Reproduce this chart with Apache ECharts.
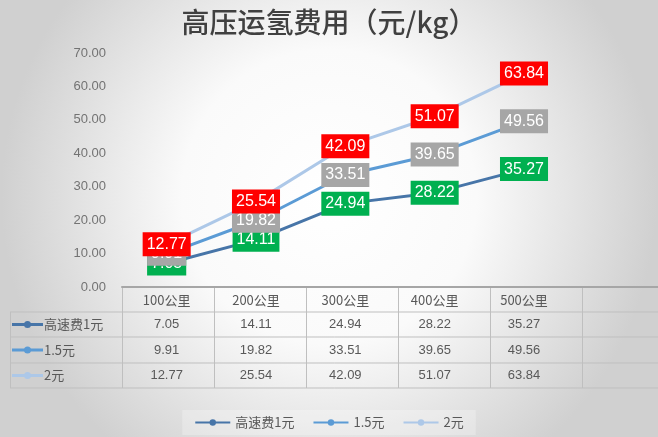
<!DOCTYPE html>
<html><head><meta charset="utf-8">
<script src="https://cdn.jsdelivr.net/npm/echarts@6/dist/echarts.min.js"></script>
<style>html,body{margin:0;padding:0;}#c{width:658px;height:437px;}</style>
</head><body><div id="c"></div>
<script>
const title = '高压运氢费用（元/kg）';
const categories = ['100公里','200公里','300公里','400公里','500公里',''];
const seriesNames = ['高速费1元','1.5元','2元'];
const s1 = [7.05,14.11,24.94,28.22,35.27];
const s2 = [9.91,19.82,33.51,39.65,49.56];
const s3 = [12.77,25.54,42.09,51.07,63.84];
const yTicks = [0,10,20,30,40,50,60,70];

const lineColors = ['#4775a8','#5b9bd5','#adc8e8'];
const labelColors = ['#00b050','#a6a6a6','#ff0000'];
const seriesData = [s1,s2,s3];
const NUM = 'Liberation Sans, Arial, Noto Sans CJK SC';
const CJK = 'Noto Sans CJK SC, Liberation Sans';

const chart = echarts.init(document.getElementById('c'));
const option = {
  animation:false,
  backgroundColor:{type:'radial',x:0.5,y:0.45,r:0.75,colorStops:[
    {offset:0,color:'#ffffff'},{offset:0.45,color:'#fafafa'},{offset:1,color:'#d0d0d0'}]},
  title:{text:title,left:'center',top:3,textStyle:{fontFamily:CJK,fontSize:28,fontWeight:500,color:'#404040'}},
  legend:{bottom:2,left:'center',itemWidth:35,itemHeight:8,itemGap:18,padding:[6,12],
    backgroundColor:'rgba(255,255,255,0.25)',
    textStyle:{fontFamily:CJK,fontSize:13,color:'#595959'},data:seriesNames},
  grid:{left:122,top:53,width:552,height:234,containLabel:false},
  xAxis:{type:'category',data:categories,boundaryGap:true,
    axisLine:{show:true,lineStyle:{color:'#a6a6a6',width:2}},axisTick:{show:false},axisLabel:{show:false}},
  yAxis:{type:'value',min:yTicks[0],max:yTicks[yTicks.length-1],interval:10,
    splitLine:{show:false},axisLine:{show:false},axisTick:{show:false},
    axisLabel:{margin:16,fontFamily:NUM,fontSize:13,color:'#737373',formatter:v=>v.toFixed(2)}},
  series:seriesNames.map((n,i)=>({
    name:n,type:'line',data:seriesData[i],z:2+i,
    symbol:'circle',symbolSize:10,
    lineStyle:{color:lineColors[i],width:3},itemStyle:{color:lineColors[i]},
    label:{show:true,position:'inside',formatter:p=>p.value.toFixed(2),
      backgroundColor:labelColors[i],color:'#fff',fontFamily:NUM,fontSize:16,padding:[5,4,3,4]},
    emphasis:{disabled:true}
  }))
};
chart.setOption(option);

// data table under the plot
const g = [];
const gridLeft = 122, band = 92;
const rowB = [287,312,337,363,388];
const tblColor = '#bfbfbf';
const xs = categories.map((c,i)=>chart.convertToPixel({xAxisIndex:0},i));
g.push({type:'line',shape:{x1:gridLeft,y1:rowB[0],x2:700,y2:rowB[0]},style:{stroke:'#a6a6a6',lineWidth:2},z:1});
for(let r=1;r<rowB.length;r++){
  g.push({type:'line',shape:{x1:10,y1:rowB[r],x2:700,y2:rowB[r]},style:{stroke:tblColor,lineWidth:1}});
}
for(let k=0;k<=categories.length;k++){
  const x = Math.round(gridLeft + k*band)+0.5;
  g.push({type:'line',shape:{x1:x,y1:rowB[0],x2:x,y2:rowB[4]},style:{stroke:tblColor,lineWidth:1}});
}
g.push({type:'line',shape:{x1:10.5,y1:rowB[1],x2:10.5,y2:rowB[4]},style:{stroke:tblColor,lineWidth:1}});
categories.forEach((c,i)=>{
  g.push({type:'text',x:xs[i],y:(rowB[0]+rowB[1])/2+1,style:{text:c,fill:'#595959',font:'13px '+CJK,align:'center',verticalAlign:'middle'}});
});
seriesNames.forEach((n,r)=>{
  const yc = (rowB[r+1]+rowB[r+2])/2;
  g.push({type:'line',shape:{x1:12,y1:yc,x2:43,y2:yc},style:{stroke:lineColors[r],lineWidth:3}});
  g.push({type:'circle',shape:{cx:27.5,cy:yc,r:3.5},style:{fill:lineColors[r]}});
  g.push({type:'text',x:44,y:yc,style:{text:n,fill:'#595959',font:'13px '+CJK,verticalAlign:'middle'}});
  seriesData[r].forEach((v,i)=>{
    g.push({type:'text',x:xs[i],y:yc,style:{text:v.toFixed(2),fill:'#595959',font:'13px '+NUM,align:'center',verticalAlign:'middle'}});
  });
});
chart.setOption({graphic:g});
</script>
</body></html>
